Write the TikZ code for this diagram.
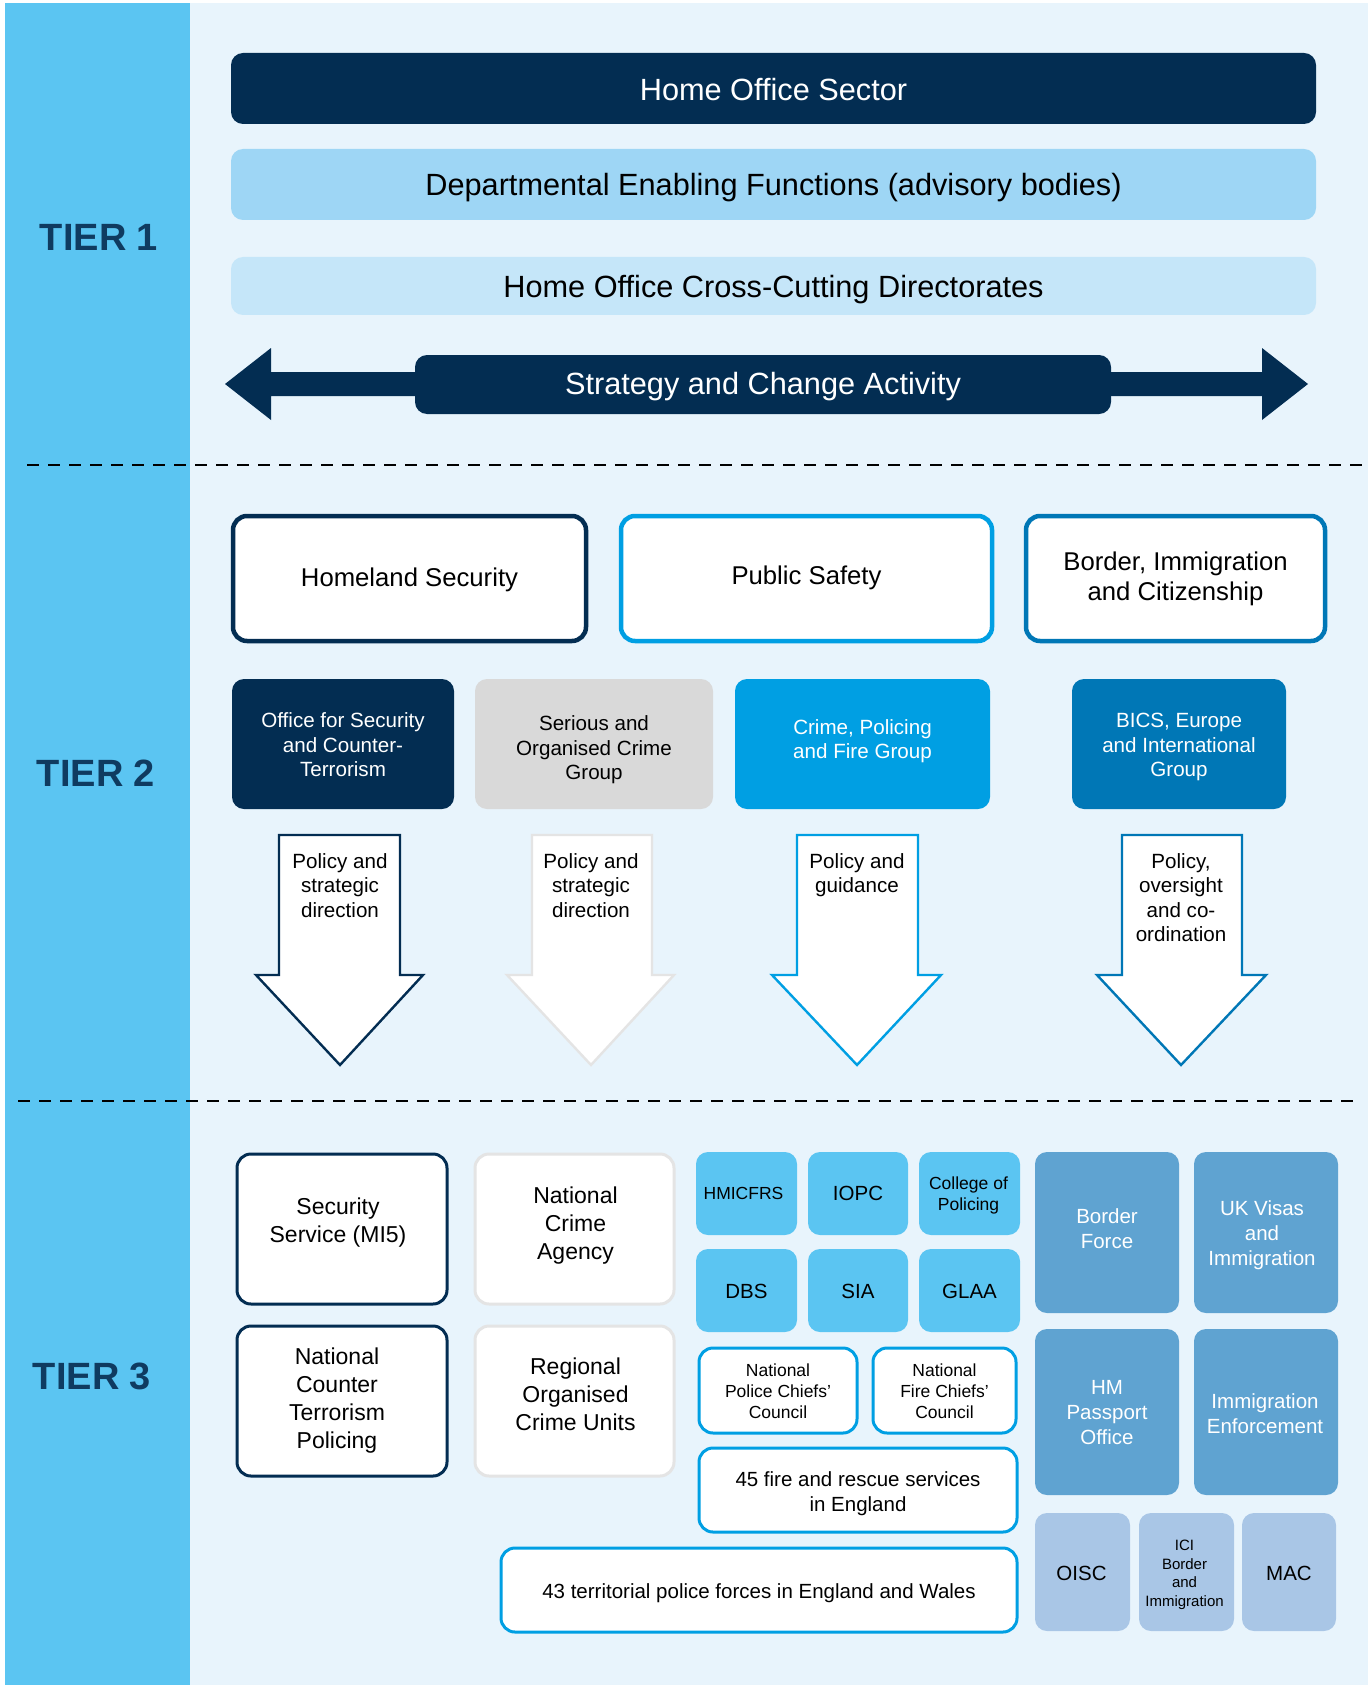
\documentclass[tikz,border=0pt]{standalone}
\usepackage{fontspec}
\setmainfont{Liberation Sans}
\definecolor{navy}{HTML}{032D52}
\definecolor{tierc}{HTML}{0F3B60}
\definecolor{strip}{HTML}{5BC5F2}
\definecolor{bgc}{HTML}{E8F4FC}
\definecolor{depc}{HTML}{9ED6F5}
\definecolor{crossc}{HTML}{C5E6F9}
\definecolor{brightb}{HTML}{009FE3}
\definecolor{midb}{HTML}{0077B6}
\definecolor{greyf}{HTML}{D9D9D9}
\definecolor{greyl}{HTML}{E4E4E4}
\definecolor{steel}{HTML}{5FA3D1}
\definecolor{lsteel}{HTML}{A9C6E6}
\newcommand\fsz[2]{\fontsize{#1}{#2}\selectfont}
% #1 box style, #2 name, #3-#6 corners, #7 text style, #8 text shift (dx,dy), #9 text
\newcommand\mybox[9]{%
  \node[#1, minimum width={(#5)-(#3)}, minimum height={(#6)-(#4)}] (#2) at ({((#3)+(#5))/2},{((#4)+(#6))/2}) {};
  \node[txt, #7] (#2-t) at ([shift={(#8)}]#2.center) {#9};}
\begin{document}
\begin{tikzpicture}[x=1pt,y=-1pt,
  base/.style={inner sep=0pt, outer sep=0pt, rounded corners=12pt},
  tone/.style={base, fill=#1},
  outl/.style={base, fill=white, draw=#1},
  txt/.style={inner sep=0pt, outer sep=0pt, align=center},
  tierlab/.style={font=\bfseries\fsz{38}{40}, text=tierc},
  arrowbody/.style={fill=white, draw=#1, line width=2.4pt, line join=miter},
  arrtext/.style={align=center, font=\fsz{20.6}{24.5}, inner sep=0pt},
  sep/.style={dash pattern=on 12pt off 9pt, line width=2.4pt, black}
]
\useasboundingbox (0,0) rectangle (1372,1685);
\fill[white] (0,0) rectangle (1372,1685);
\fill[bgc] (190,3) rectangle (1368,1685);
\fill[strip] (5,3) rectangle (190,1685);

% separators
\draw[sep] (27,465) -- (1368,465);
\draw[sep] (18,1101) -- (1359,1101);

% tier labels
\node[tierlab] (t1) at (99,237) {TIER 1};
\node[tierlab] (t2) at (96,773) {TIER 2};
\node[tierlab] (t3) at (92,1376) {TIER 3};

% ---------------- Tier 1
\mybox{tone=navy}{hos}{231}{53}{1316}{124}{text=white, font=\fsz{30.7}{36}}{0,1}{Home Office Sector}
\mybox{tone=depc}{def}{231}{149}{1316}{220}{font=\fsz{30.7}{36}}{0,3}{Departmental Enabling Functions (advisory bodies)}
\mybox{tone=crossc}{ccd}{231}{257}{1316}{315}{font=\fsz{30.7}{36}}{0,4}{Home Office Cross-Cutting Directorates}
\fill[navy] (225,384) -- (271,348) -- (271,372) -- (1262,372) -- (1262,348) -- (1308,384)
  -- (1262,420) -- (1262,396) -- (271,396) -- (271,420) -- cycle;
\mybox{tone=navy}{sca}{415}{355}{1111}{414}{text=white, font=\fsz{30.7}{36}}{0,2}{Strategy and Change Activity}

% ---------------- Tier 2
\mybox{outl=navy, line width=4.5pt, rounded corners=14pt}{hs}{233}{516}{586}{641}{font=\fsz{25.7}{30}}{0,1}{Homeland Security}
\mybox{outl=brightb, line width=4.5pt, rounded corners=14pt}{ps}{621}{516}{992}{641}{font=\fsz{25.7}{30}}{0,-1}{Public Safety}
\mybox{outl=midb, line width=4.5pt, rounded corners=14pt}{bic}{1026}{516}{1325}{641}{font=\fsz{25.7}{30}}{0,0}{Border, Immigration\\and Citizenship}

\mybox{tone=navy}{osct}{232}{679}{454}{809}{text=white, font=\fsz{20.6}{24.5}}{0,1}{Office for Security\\and Counter-\\Terrorism}
\mybox{tone=greyf}{socg}{475}{679}{713}{809}{font=\fsz{20.6}{24.5}}{0,6}{Serious and\\Organised Crime\\Group}
\mybox{tone=brightb}{cpfg}{735}{679}{990}{809}{text=white, font=\fsz{20.6}{24.5}}{0,-3}{Crime, Policing\\and Fire Group}
\mybox{tone=midb}{bics}{1072}{679}{1286}{809}{text=white, font=\fsz{20.6}{24.5}}{0,3}{BICS, Europe\\and International\\Group}

\draw[arrowbody=navy] (279,835) -- (400,835) -- (400,975) -- (423,975) -- (340,1065) -- (256,975) -- (279,975) -- cycle;
\draw[arrowbody=greyl] (532,835) -- (652,835) -- (652,975) -- (674,975) -- (591,1065) -- (507,975) -- (532,975) -- cycle;
\draw[arrowbody=brightb] (797,835) -- (918,835) -- (918,975) -- (941,975) -- (857,1065) -- (772,975) -- (797,975) -- cycle;
\draw[arrowbody=midb] (1122,835) -- (1242,835) -- (1242,975) -- (1266,975) -- (1181,1065) -- (1097,975) -- (1122,975) -- cycle;
\node[arrtext, anchor=north] (a1) at (340,853) {Policy and\\strategic\\direction};
\node[arrtext, anchor=north] (a2) at (591,853) {Policy and\\strategic\\direction};
\node[arrtext, anchor=north] (a3) at (857,853) {Policy and\\guidance};
\node[arrtext, anchor=north] (a4) at (1181,853) {Policy,\\oversight\\and co-\\ordination};

% ---------------- Tier 3
\mybox{outl=navy, line width=3pt, rounded corners=14pt}{mi5}{237}{1154}{447}{1304}{font=\fsz{23}{28}}{-4,-6}{Security\\Service (MI5)}
\mybox{outl=navy, line width=3pt, rounded corners=14pt}{nctp}{237}{1326}{447}{1476}{font=\fsz{23}{28}}{-5,0}{National\\Counter\\Terrorism\\Policing}
\mybox{outl=greyl, line width=3pt, rounded corners=14pt}{nca}{475}{1154}{674}{1304}{font=\fsz{23}{28}}{1,-3}{National\\Crime\\Agency}
\mybox{outl=greyl, line width=3pt, rounded corners=14pt}{rocu}{475}{1326}{674}{1476}{font=\fsz{23}{28}}{1,-7}{Regional\\Organised\\Crime Units}

\mybox{tone=strip}{hmi}{696}{1152}{797}{1235}{font=\fsz{17.5}{21}}{-3,0}{HMICFRS}
\mybox{tone=strip}{iopc}{808}{1152}{908}{1235}{font=\fsz{20.5}{24}}{0,0}{IOPC}
\mybox{tone=strip}{cop}{919}{1152}{1020}{1235}{font=\fsz{17.5}{21}}{-1,2}{College of\\Policing}
\mybox{tone=strip}{dbs}{696}{1249}{797}{1332}{font=\fsz{20.5}{24}}{0,1}{DBS}
\mybox{tone=strip}{sia}{808}{1249}{908}{1332}{font=\fsz{20.5}{24}}{0,1}{SIA}
\mybox{tone=strip}{glaa}{919}{1249}{1020}{1332}{font=\fsz{20.5}{24}}{0,1}{GLAA}

\mybox{outl=brightb, line width=3pt, rounded corners=14pt}{npcc}{699}{1348}{857}{1433}{font=\fsz{17.5}{21}}{0,1}{National\\Police Chiefs’\\Council}
\mybox{outl=brightb, line width=3pt, rounded corners=14pt}{nfcc}{873}{1348}{1016}{1433}{font=\fsz{17.5}{21}}{0,1}{National\\Fire Chiefs’\\Council}
\mybox{outl=brightb, line width=3pt, rounded corners=14pt}{frs}{699}{1448}{1017}{1532}{font=\fsz{20.5}{25}}{0,4}{45 fire and rescue services\\in England}
\mybox{outl=brightb, line width=3pt, rounded corners=14pt}{tpf}{501}{1548}{1017}{1632}{font=\fsz{20.5}{25}}{0,3}{43 territorial police forces in England and Wales}

\mybox{tone=steel}{bf}{1035}{1152}{1179}{1313}{text=white, font=\fsz{20.5}{25}}{0,-4}{Border\\Force}
\mybox{tone=steel}{ukvi}{1194}{1152}{1338}{1313}{text=white, font=\fsz{20.5}{25}}{-4,3}{UK Visas\\and\\Immigration}
\mybox{tone=steel}{hmpo}{1035}{1329}{1179}{1495}{text=white, font=\fsz{20.5}{25}}{0,1}{HM\\Passport\\Office}
\mybox{tone=steel}{ie}{1194}{1329}{1338}{1495}{text=white, font=\fsz{20.5}{25}}{-1,2}{Immigration\\Enforcement}

\mybox{tone=lsteel}{oisc}{1035}{1513}{1130}{1631}{font=\fsz{20.5}{24}}{-1,1}{OISC}
\mybox{tone=lsteel}{ici}{1139}{1513}{1234}{1631}{font=\fsz{15}{18.5}}{-2,3}{ICI\\Border\\and\\Immigration}
\mybox{tone=lsteel}{mac}{1242}{1513}{1336}{1631}{font=\fsz{20.5}{24}}{0,1}{MAC}
\end{tikzpicture}
\end{document}
